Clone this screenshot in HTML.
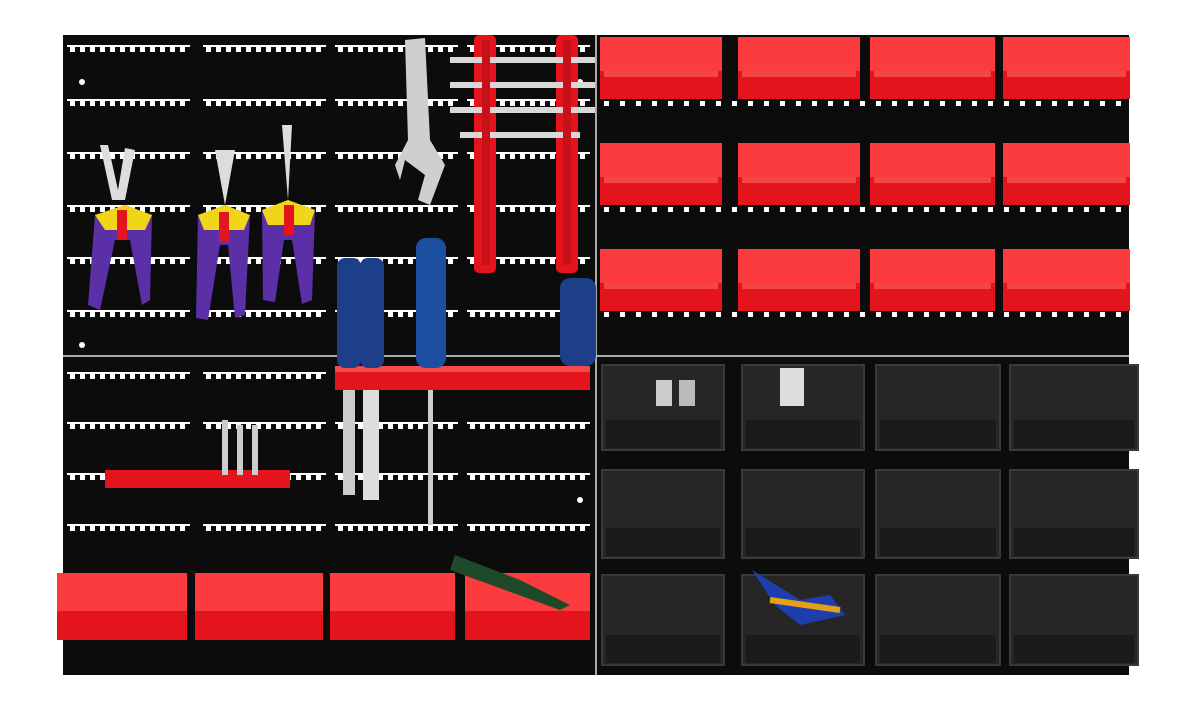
<!DOCTYPE html>
<html><head><meta charset="utf-8"><style>
html,body{margin:0;padding:0;background:#fff;width:1197px;height:708px;overflow:hidden}
</style></head><body>
<svg width="1197" height="708" viewBox="0 0 1197 708" xmlns="http://www.w3.org/2000/svg" xmlns:xlink="http://www.w3.org/1999/xlink">
<defs>
<pattern id="teeth" x="0" y="0" width="10" height="10" patternUnits="userSpaceOnUse">
<rect x="0" y="0" width="10" height="2" fill="#fff"/><rect x="3" y="0" width="5" height="7" fill="#fff"/>
</pattern>
<pattern id="dots" x="0" y="0" width="16" height="8" patternUnits="userSpaceOnUse">
<rect x="4" y="0" width="5" height="5" fill="#fff"/>
</pattern>
<g id="seg"><rect x="0" y="0" width="123" height="7" fill="url(#teeth)"/></g>
<g id="drow"><rect x="0" y="0" width="528" height="6" fill="url(#dots)"/></g>
</defs>
<rect x="63" y="35" width="1066" height="640" fill="#0c0c0c"/>
<line x1="596" y1="35" x2="596" y2="675" stroke="#ddd" stroke-width="1.5"/>
<line x1="63" y1="356" x2="1129" y2="356" stroke="#ddd" stroke-width="1.5"/>
<!-- left slots -->
<g>
<use xlink:href="#seg" x="67" y="45"/><use xlink:href="#seg" x="203" y="45"/><use xlink:href="#seg" x="335" y="45"/><use xlink:href="#seg" x="467" y="45"/>
<use xlink:href="#seg" x="67" y="99"/><use xlink:href="#seg" x="203" y="99"/><use xlink:href="#seg" x="335" y="99"/><use xlink:href="#seg" x="467" y="99"/>
<use xlink:href="#seg" x="67" y="152"/><use xlink:href="#seg" x="203" y="152"/><use xlink:href="#seg" x="335" y="152"/><use xlink:href="#seg" x="467" y="152"/>
<use xlink:href="#seg" x="67" y="205"/><use xlink:href="#seg" x="203" y="205"/><use xlink:href="#seg" x="335" y="205"/><use xlink:href="#seg" x="467" y="205"/>
<use xlink:href="#seg" x="67" y="257"/><use xlink:href="#seg" x="203" y="257"/><use xlink:href="#seg" x="335" y="257"/><use xlink:href="#seg" x="467" y="257"/>
<use xlink:href="#seg" x="67" y="310"/><use xlink:href="#seg" x="203" y="310"/><use xlink:href="#seg" x="335" y="310"/><use xlink:href="#seg" x="467" y="310"/>
<use xlink:href="#seg" x="67" y="372"/><use xlink:href="#seg" x="203" y="372"/><use xlink:href="#seg" x="335" y="372"/><use xlink:href="#seg" x="467" y="372"/>
<use xlink:href="#seg" x="67" y="422"/><use xlink:href="#seg" x="203" y="422"/><use xlink:href="#seg" x="335" y="422"/><use xlink:href="#seg" x="467" y="422"/>
<use xlink:href="#seg" x="67" y="473"/><use xlink:href="#seg" x="203" y="473"/><use xlink:href="#seg" x="335" y="473"/><use xlink:href="#seg" x="467" y="473"/>
<use xlink:href="#seg" x="67" y="524"/><use xlink:href="#seg" x="203" y="524"/><use xlink:href="#seg" x="335" y="524"/><use xlink:href="#seg" x="467" y="524"/>
</g>
<use xlink:href="#drow" x="600" y="101"/><use xlink:href="#drow" x="600" y="207"/><use xlink:href="#drow" x="600" y="312"/>
<!-- top-right red bins -->
<g>
<g transform="translate(600,37)"><rect width="122" height="62" fill="#e3141b"/><rect width="122" height="34" fill="#fb3b3e"/><rect x="4" y="34" width="114" height="6" fill="#f34447"/></g>
<g transform="translate(738,37)"><rect width="122" height="62" fill="#e3141b"/><rect width="122" height="34" fill="#fb3b3e"/><rect x="4" y="34" width="114" height="6" fill="#f34447"/></g>
<g transform="translate(870,37)"><rect width="125" height="62" fill="#e3141b"/><rect width="125" height="34" fill="#fb3b3e"/><rect x="4" y="34" width="117" height="6" fill="#f34447"/></g>
<g transform="translate(1003,37)"><rect width="127" height="62" fill="#e3141b"/><rect width="127" height="34" fill="#fb3b3e"/><rect x="4" y="34" width="119" height="6" fill="#f34447"/></g>
<g transform="translate(600,143)"><rect width="122" height="62" fill="#e3141b"/><rect width="122" height="34" fill="#fb3b3e"/><rect x="4" y="34" width="114" height="6" fill="#f34447"/></g>
<g transform="translate(738,143)"><rect width="122" height="62" fill="#e3141b"/><rect width="122" height="34" fill="#fb3b3e"/><rect x="4" y="34" width="114" height="6" fill="#f34447"/></g>
<g transform="translate(870,143)"><rect width="125" height="62" fill="#e3141b"/><rect width="125" height="34" fill="#fb3b3e"/><rect x="4" y="34" width="117" height="6" fill="#f34447"/></g>
<g transform="translate(1003,143)"><rect width="127" height="62" fill="#e3141b"/><rect width="127" height="34" fill="#fb3b3e"/><rect x="4" y="34" width="119" height="6" fill="#f34447"/></g>
<g transform="translate(600,249)"><rect width="122" height="62" fill="#e3141b"/><rect width="122" height="34" fill="#fb3b3e"/><rect x="4" y="34" width="114" height="6" fill="#f34447"/></g>
<g transform="translate(738,249)"><rect width="122" height="62" fill="#e3141b"/><rect width="122" height="34" fill="#fb3b3e"/><rect x="4" y="34" width="114" height="6" fill="#f34447"/></g>
<g transform="translate(870,249)"><rect width="125" height="62" fill="#e3141b"/><rect width="125" height="34" fill="#fb3b3e"/><rect x="4" y="34" width="117" height="6" fill="#f34447"/></g>
<g transform="translate(1003,249)"><rect width="127" height="62" fill="#e3141b"/><rect width="127" height="34" fill="#fb3b3e"/><rect x="4" y="34" width="119" height="6" fill="#f34447"/></g>
</g>
<!-- bottom-right black bins -->
<g fill="#262626" stroke="#3a3a3a" stroke-width="2">
<rect x="602" y="365" width="122" height="85"/><rect x="742" y="365" width="122" height="85"/><rect x="876" y="365" width="124" height="85"/><rect x="1010" y="365" width="128" height="85"/>
<rect x="602" y="470" width="122" height="88"/><rect x="742" y="470" width="122" height="88"/><rect x="876" y="470" width="124" height="88"/><rect x="1010" y="470" width="128" height="88"/>
<rect x="602" y="575" width="122" height="90"/><rect x="742" y="575" width="122" height="90"/><rect x="876" y="575" width="124" height="90"/><rect x="1010" y="575" width="128" height="90"/>
</g>
<g fill="#1a1a1a">
<rect x="606" y="420" width="114" height="28"/><rect x="746" y="420" width="114" height="28"/><rect x="880" y="420" width="116" height="28"/><rect x="1014" y="420" width="120" height="28"/>
<rect x="606" y="528" width="114" height="28"/><rect x="746" y="528" width="114" height="28"/><rect x="880" y="528" width="116" height="28"/><rect x="1014" y="528" width="120" height="28"/>
<rect x="606" y="635" width="114" height="28"/><rect x="746" y="635" width="114" height="28"/><rect x="880" y="635" width="116" height="28"/><rect x="1014" y="635" width="120" height="28"/>
</g>
<rect x="656" y="380" width="16" height="26" fill="#ccc"/><rect x="679" y="380" width="16" height="26" fill="#bbb"/>
<rect x="780" y="368" width="24" height="38" fill="#ddd"/>
<path d="M752 570 L800 600 L830 595 L845 615 L800 625 L775 605 Z" fill="#1d3fae"/><path d="M770 600 L840 610" stroke="#e5a016" stroke-width="6"/>
<!-- bottom-left red bins -->
<g>
<g transform="translate(57,573)"><rect width="130" height="67" fill="#e3141b"/><rect width="130" height="38" fill="#fb3b3e"/></g>
<g transform="translate(195,573)"><rect width="128" height="67" fill="#e3141b"/><rect width="128" height="38" fill="#fb3b3e"/></g>
<g transform="translate(330,573)"><rect width="125" height="67" fill="#e3141b"/><rect width="125" height="38" fill="#fb3b3e"/></g>
<g transform="translate(465,573)"><rect width="125" height="67" fill="#e3141b"/><rect width="125" height="38" fill="#fb3b3e"/></g>
</g>
<path d="M455 555 L520 580 L570 605 L560 610 L505 590 L450 570 Z" fill="#1e4a2a"/>
<circle cx="82" cy="82" r="3" fill="#fff"/><circle cx="82" cy="345" r="3" fill="#fff"/><circle cx="580" cy="82" r="3" fill="#fff"/><circle cx="580" cy="500" r="3" fill="#fff"/>
<!-- pliers -->
<g>
<path d="M100 145 L112 200 L125 200 L135 150 L125 148 L118 190 L108 145 Z" fill="#ddd"/>
<path d="M95 215 L125 205 L152 215 L150 300 L142 305 L130 240 L115 240 L100 310 L88 305 Z" fill="#5b2fa6"/>
<path d="M95 215 L125 205 L152 215 L145 230 L105 230 Z" fill="#f1d519"/><rect x="117" y="210" width="10" height="30" fill="#e3141b"/>
<path d="M215 150 L225 205 L235 150 Z" fill="#ddd"/>
<path d="M198 215 L225 205 L250 215 L245 315 L235 318 L228 245 L220 245 L208 320 L196 318 Z" fill="#5b2fa6"/>
<path d="M198 215 L225 205 L250 215 L244 230 L204 230 Z" fill="#f1d519"/><rect x="219" y="212" width="10" height="30" fill="#e3141b"/>
<path d="M282 125 L288 200 L292 125 Z" fill="#ddd"/>
<path d="M262 210 L288 200 L315 210 L312 300 L302 304 L292 240 L284 240 L275 302 L263 300 Z" fill="#5b2fa6"/>
<path d="M262 210 L288 200 L315 210 L310 225 L268 225 Z" fill="#f1d519"/><rect x="284" y="205" width="10" height="30" fill="#e3141b"/>
</g>
<!-- wrench -->
<path d="M405 40 L425 38 L430 140 L445 165 L430 205 L418 200 L425 175 L405 160 L400 180 L395 165 L408 140 Z" fill="#cfcfcf"/>
<!-- red spanner holders -->
<rect x="474" y="35" width="22" height="238" rx="5" fill="#e3141b"/>
<rect x="556" y="35" width="22" height="238" rx="5" fill="#e3141b"/>
<g stroke="#d8d8d8" stroke-width="6" fill="none">
<line x1="450" y1="60" x2="595" y2="60"/><line x1="450" y1="85" x2="595" y2="85"/><line x1="450" y1="110" x2="595" y2="110"/><line x1="460" y1="135" x2="580" y2="135"/>
</g>
<rect x="482" y="40" width="8" height="225" fill="#c8101a"/><rect x="563" y="40" width="8" height="225" fill="#c8101a"/>
<!-- screwdrivers & shelf -->
<rect x="335" y="366" width="255" height="24" fill="#e3141b"/><rect x="335" y="366" width="255" height="6" fill="#f54a4d"/>
<rect x="105" y="470" width="185" height="18" fill="#e3141b"/>
<rect x="222" y="420" width="6" height="55" fill="#ccc"/><rect x="237" y="425" width="6" height="50" fill="#ccc"/><rect x="252" y="425" width="6" height="50" fill="#ccc"/>
<rect x="337" y="258" width="24" height="110" rx="8" fill="#1d3f8a"/><rect x="360" y="258" width="24" height="110" rx="8" fill="#1d3f8a"/>
<rect x="343" y="390" width="12" height="105" fill="#ccc"/><rect x="363" y="390" width="16" height="110" fill="#ddd"/>
<rect x="416" y="238" width="30" height="130" rx="10" fill="#1d4fa0"/><rect x="428" y="390" width="5" height="135" fill="#ccc"/>
<rect x="560" y="278" width="36" height="88" rx="10" fill="#1d3f8a"/>
</svg>
</body></html>
